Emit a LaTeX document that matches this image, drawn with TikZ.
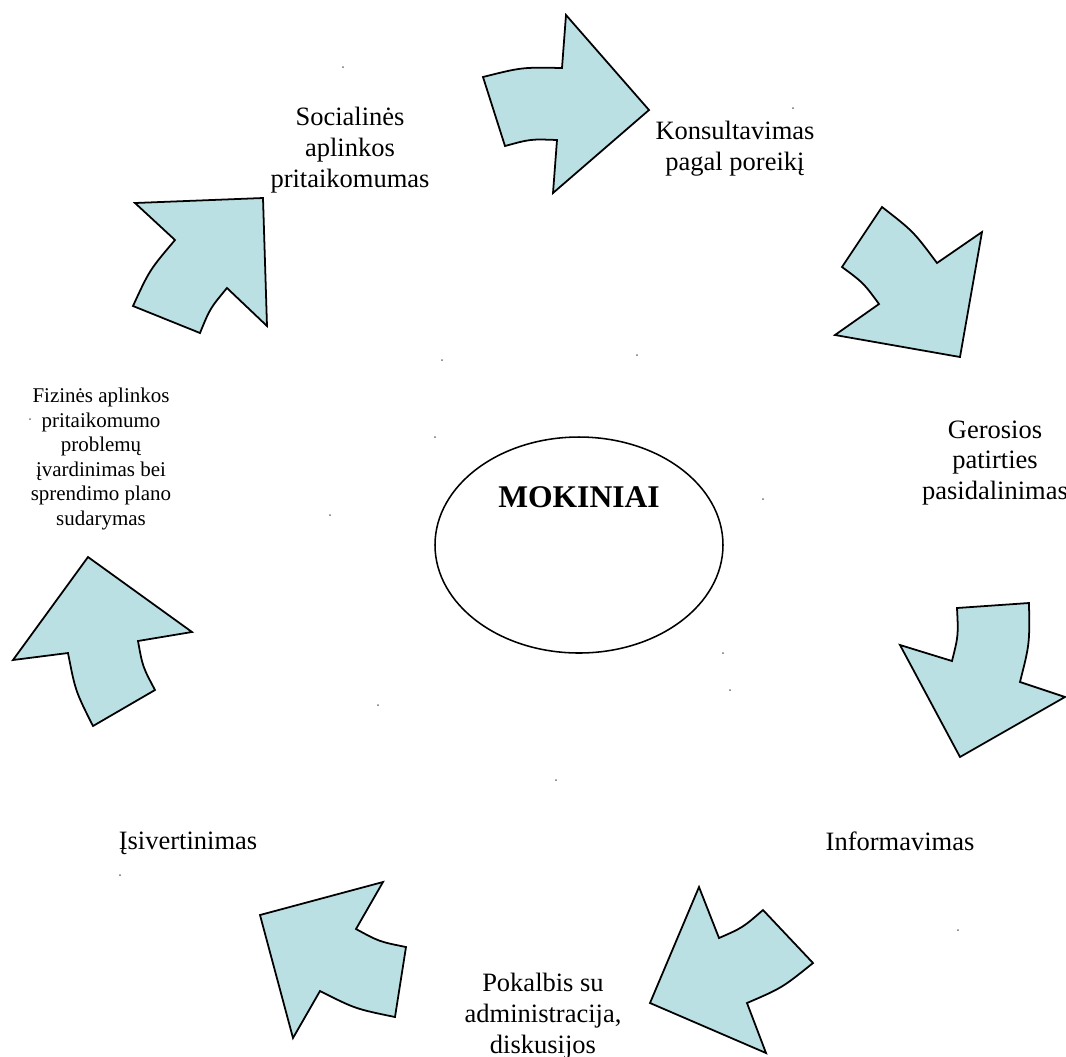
\documentclass[tikz,border=0pt]{standalone}
\usepackage{fontspec}
\setmainfont{Liberation Serif}
\usetikzlibrary{shapes.geometric}
\definecolor{arrowfill}{RGB}{187,224,227}
\definecolor{specks}{RGB}{110,110,110}
\begin{document}
\begin{tikzpicture}[x=0.4528pt, y=-0.4528pt,
    arr/.style={draw=black, fill=arrowfill, line width=0.8pt, line join=miter},
    lbl/.style={align=center, inner sep=0pt, font=\fontsize{12}{14}\selectfont},
    small/.style={align=center, inner sep=0pt, font=\fontsize{9.5}{11.1}\selectfont}]
    \useasboundingbox (0,0) rectangle (1066,1056);

    % arrows round the circle
    \filldraw[arr] (483,77) .. controls (521.9,67.2) .. (562,68) -- (566,15) -- (649,110)
        -- (553,193) -- (557,140) .. controls (530.5,139) .. (505,146) -- cycle;
    \filldraw[arr] (842,267) .. controls (863.4,282.8) .. (879,304) -- (835,335) -- (960,357)
        -- (982,232) -- (937,263) .. controls (913.4,231.4) .. (882,207) -- cycle;
    \filldraw[arr] (1029,603) .. controls (1029.7,643.6) .. (1020,682) -- (1065,697) -- (960,757)
        -- (900,645) -- (952,661) .. controls (958.4,635.4) .. (957,608) -- cycle;
    \filldraw[arr] (699,887) -- (719,938) .. controls (742.6,927.7) .. (763,910) -- (813,963)
        .. controls (782.2,987.8) .. (747,1003) -- (766,1053) -- (650,1003) -- cycle;
    \filldraw[arr] (383,882) -- (356,929) .. controls (379.2,941.6) .. (406,947) -- (395,1017)
        .. controls (355.2,1008.8) .. (320,991) -- (293,1038) -- (260,915) -- cycle;
    \filldraw[arr] (88,557) -- (192,632) -- (138,641) .. controls (142.6,666.6) .. (155,690)
        -- (93,726) .. controls (75.4,691) .. (68,653) -- (13,660) -- cycle;
    \filldraw[arr] (135,203) -- (263,198) -- (267,326) -- (227,288) .. controls (210.1,308.3) .. (200,333)
        -- (133,306) .. controls (149.5,270.1) .. (175,240) -- cycle;

    % centre
    \node[ellipse, draw, line width=0.7pt, minimum width=130.4pt, minimum height=97.8pt, inner sep=0pt] (ring) at (579,545) {};
    \node[font=\fontsize{14.3}{16}\selectfont\bfseries, inner sep=0pt] (mokiniai) at (579,497) {MOKINIAI};

    % labels
    \node[lbl] (social) at (350,150) {Socialinės\\aplinkos\\pritaikomumas};
    \node[lbl] (konsult) at (735,149) {Konsultavimas\\pagal poreikį};
    \node[lbl] (geros) at (995,463) {Gerosios\\patirties\\pasidalinimas};
    \node[lbl] (inform) at (900,841) {Informavimas};
    \node[lbl] (pokalb) at (543,1016) {Pokalbis su\\administracija,\\diskusijos};
    \node[lbl] (isiv) at (188,843) {Įsivertinimas};
    \node[small] (fizines) at (101,459) {Fizinės aplinkos\\pritaikomumo\\problemų\\įvardinimas bei\\sprendimo plano\\sudarymas};

    % stray specks
    \foreach \p in {(343,67),(793,108),(442,360),(637,355),(435,437),(330,515),(763,499),
                    (723,653),(730,690),(378,705),(556,780),(30,419),(120,875),(958,930)}
        \fill[specks] \p circle (1);
\end{tikzpicture}
\end{document}
